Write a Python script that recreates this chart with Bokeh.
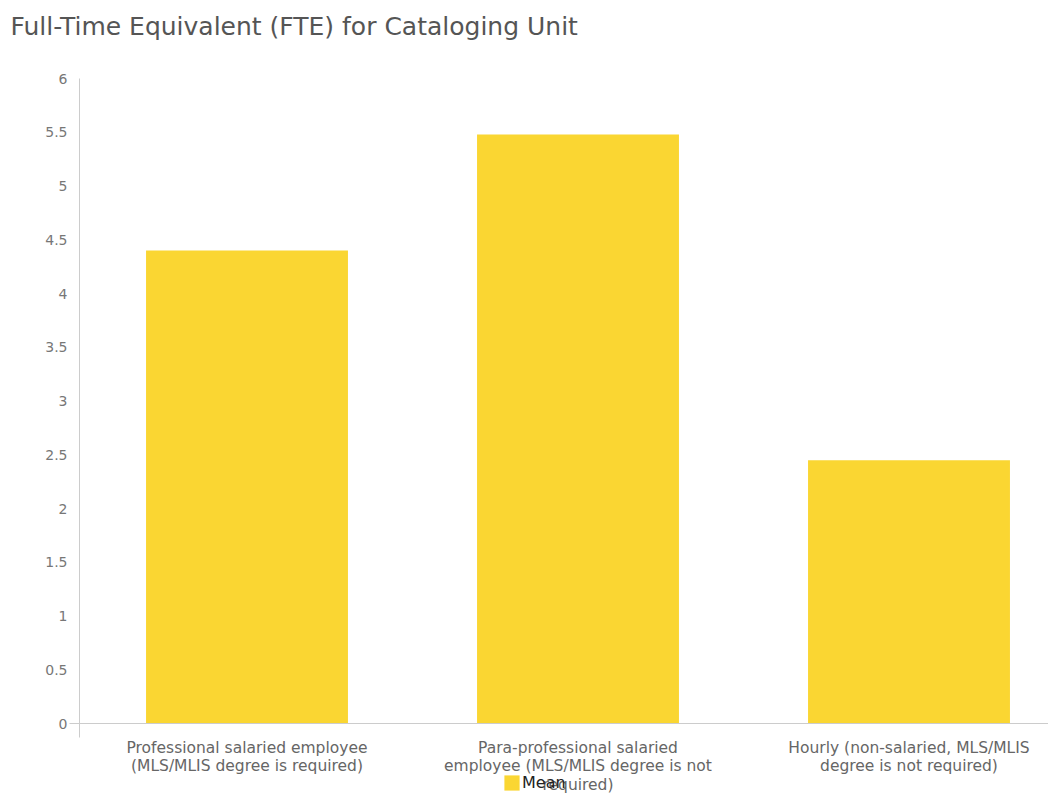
from bokeh.plotting import figure
from bokeh.models import (Range1d, FixedTicker, NumeralTickFormatter, Legend,
                          LegendItem, ColumnDataSource)
from bokeh.embed import file_html
from bokeh.resources import INLINE

title = "Full-Time Equivalent (FTE) for Cataloging Unit"
categories = [
    "Professional salaried employee\n(MLS/MLIS degree is required)",
    "Para-professional salaried\nemployee (MLS/MLIS degree is not\nrequired)",
    "Hourly (non-salaried, MLS/MLIS\ndegree is not required)",
]
mean_values = [4.40, 5.48, 2.45]
y_ticks = [0, 0.5, 1, 1.5, 2, 2.5, 3, 3.5, 4, 4.5, 5, 5.5, 6]
series_name = "Mean"

FONT = "DejaVu Sans"
BAR = "#FAD632"

xs = [i + 0.5 for i in range(len(categories))]
src = ColumnDataSource(dict(x=xs, top=mean_values))

W, H = 1048, 793
TOP = 45
p = figure(width=W, height=H, output_backend="svg", toolbar_location=None,
           x_range=Range1d(-81 / 331, (W - 81) / 331),
           y_range=Range1d(-(H - 723) / 107.5, 6 + (78 - TOP) / 107.5),
           min_border_left=0, min_border_right=0, min_border_top=TOP,
           min_border_bottom=0)
p.title.text = title
p.title.text_font = FONT
p.title.text_font_size = "25px"
p.title.text_font_style = "normal"
p.title.text_color = "#555555"
p.title.offset = 10
p.outline_line_color = None
p.xgrid.visible = False
p.ygrid.visible = False

r = p.vbar(x="x", top="top", width=0.61, bottom=0, source=src,
           fill_color=BAR, line_color=None)

p.yaxis.fixed_location = -2 / 331
p.yaxis.bounds = (-0.13, 6)
p.yaxis.ticker = FixedTicker(ticks=y_ticks)
p.yaxis.formatter = NumeralTickFormatter(format="0.[0]")
p.yaxis.major_tick_out = 0
p.yaxis.major_tick_in = 0
p.yaxis.minor_tick_out = 0
p.yaxis.minor_tick_in = 0
p.yaxis.axis_line_color = "#cccccc"
p.yaxis.major_label_text_color = "#777777"
p.yaxis.major_label_text_font = FONT
p.yaxis.major_label_text_font_size = "14px"
p.yaxis.major_label_standoff = 12

p.xaxis.fixed_location = 0
p.xaxis.bounds = (-12 / 331, (W - 81) / 331)
p.xaxis.ticker = FixedTicker(ticks=xs)
p.xaxis.major_label_overrides = {x: c for x, c in zip(xs, categories)}
p.xaxis.major_tick_out = 0
p.xaxis.major_tick_in = 0
p.xaxis.minor_tick_out = 0
p.xaxis.minor_tick_in = 0
p.xaxis.axis_line_color = "#cccccc"
p.xaxis.major_label_text_color = "#666666"
p.xaxis.major_label_text_font = FONT
p.xaxis.major_label_text_font_size = "15.5px"
p.xaxis.major_label_text_line_height = 1.05
p.xaxis.major_label_standoff = 15

legend = Legend(items=[LegendItem(label=series_name, renderers=[r])],
                location=(502, 1), padding=0, margin=0, spacing=0,
                glyph_width=19, glyph_height=19, label_height=19,
                label_standoff=1,
                label_text_font=FONT, label_text_font_size="16px",
                label_text_color="#222222", border_line_color=None,
                background_fill_alpha=0)
p.add_layout(legend, "center")

open("out.html", "w").write(file_html(p, INLINE))
